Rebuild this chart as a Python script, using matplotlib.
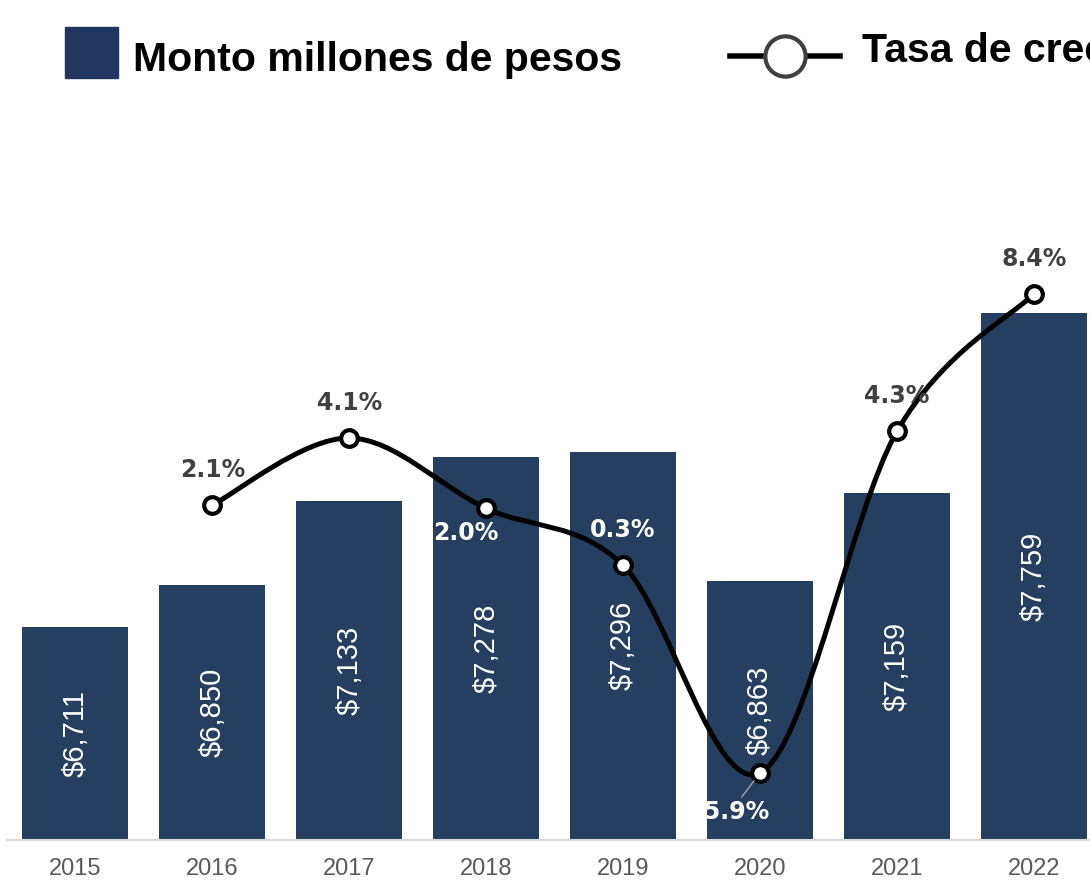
import numpy as np
import matplotlib.pyplot as plt
from matplotlib.path import Path
from matplotlib.patches import PathPatch, Rectangle
from matplotlib.lines import Line2D

years = ["2015", "2016", "2017", "2018", "2019", "2020", "2021", "2022"]
monto = [6711, 6850, 7133, 7278, 7296, 6863, 7159, 7759]
monto_labels = ["$6,711", "$6,850", "$7,133", "$7,278", "$7,296", "$6,863", "$7,159", "$7,759"]
tasa = [2.1, 4.1, 2.0, 0.3, -5.9, 4.3, 8.4]
tasa_labels = ["2.1%", "4.1%", "2.0%", "0.3%", "-5.9%", "4.3%", "8.4%"]

bar_color = "#243F60"
W, H = 1090, 880

fig = plt.figure(figsize=(W / 100, H / 100), dpi=100)
ax = fig.add_axes([7 / W, 40 / H, (W - 7) / W, 690 / H])
ax2 = ax.twinx()

x = np.arange(len(years))
ax.bar(x, [v - 6000 for v in monto], bottom=6000, width=0.774, color=bar_color, zorder=2)
for xi, v, lab in zip(x, monto, monto_labels):
    ax.text(xi, (6000 + v) / 2, lab, rotation=90, ha="center", va="center",
            color="white", fontsize=21, family="Liberation Sans")

ax.set_xlim(-0.5, 7.41)
ax.set_ylim(6000, 8303)
ax.set_xticks(x)
ax.set_xticklabels(years, fontsize=17, color="#595959", family="Liberation Sans")
ax.tick_params(axis="x", length=0, pad=13)
ax.set_yticks([])
for s in ["top", "left", "right"]:
    ax.spines[s].set_visible(False)
ax.spines["bottom"].set_color("#D9D9D9")
ax.spines["bottom"].set_linewidth(1.5)

# growth line, smoothed with cubic bezier segments through the points
lx = x[1:].astype(float)
ly = np.array(tasa, dtype=float)
pts = np.column_stack([lx, ly])
verts = [pts[0]]
codes = [Path.MOVETO]
n = len(pts)
for i in range(n - 1):
    p0 = pts[i - 1] if i > 0 else pts[i]
    p1 = pts[i]
    p2 = pts[i + 1]
    p3 = pts[i + 2] if i + 2 < n else pts[i + 1]
    c1 = p1 + (p2 - p0) / 6
    c2 = p2 - (p3 - p1) / 6
    verts += [c1, c2, p2]
    codes += [Path.CURVE4] * 3
ax2.add_patch(PathPatch(Path(verts, codes), facecolor="none", edgecolor="black",
                        lw=3.6, zorder=3, capstyle="round"))
ax2.plot(lx, ly, ls="none", marker="o", ms=12, mfc="white", mec="black", mew=3, zorder=4)
ax2.set_ylim(-7.904, 12.70)
ax2.set_yticks([])
for s in ["top", "left", "right", "bottom"]:
    ax2.spines[s].set_visible(False)

offsets = [(0, 35), (0, 35), (-20, -25), (0, 35), (-28, -39), (0, 35), (0, 35)]
colors = ["#404040", "#404040", "white", "white", "white", "#404040", "#404040"]
for xi, v, lab, off, c in zip(lx, ly, tasa_labels, offsets, colors):
    kw = {}
    if lab == "-5.9%":
        kw["arrowprops"] = dict(arrowstyle="-", color="#A6A6A6", lw=1, shrinkA=0,
                                shrinkB=7, relpos=(0.6, 1.0))
    ax2.annotate(lab, (xi, v), xytext=off, textcoords="offset pixels",
                 ha="center", va="center", color=c, fontsize=17,
                 fontweight="bold", family="DejaVu Sans", zorder=5, **kw)

# legend drawn by hand at the top
fig.add_artist(Rectangle((65 / W, 1 - 78 / H), 53 / W, 51 / H,
                         transform=fig.transFigure, color="#22375F"))
fig.text(133 / W, 1 - 71 / H, "Monto millones de pesos", fontsize=29.5,
         fontweight="bold", family="Liberation Sans", va="baseline")
fig.add_artist(Line2D([730 / W, 840 / W], [1 - 56 / H, 1 - 56 / H],
                      transform=fig.transFigure, color="black", lw=4))
fig.add_artist(Line2D([785 / W], [1 - 56 / H], transform=fig.transFigure,
                      marker="o", ms=29, mfc="white", mec="#404040", mew=3))
fig.text(862 / W, 1 - 62 / H, "Tasa de crecimiento", fontsize=29.5,
         fontweight="bold", family="Liberation Sans", va="baseline")

fig.savefig("out.png", dpi=100)
